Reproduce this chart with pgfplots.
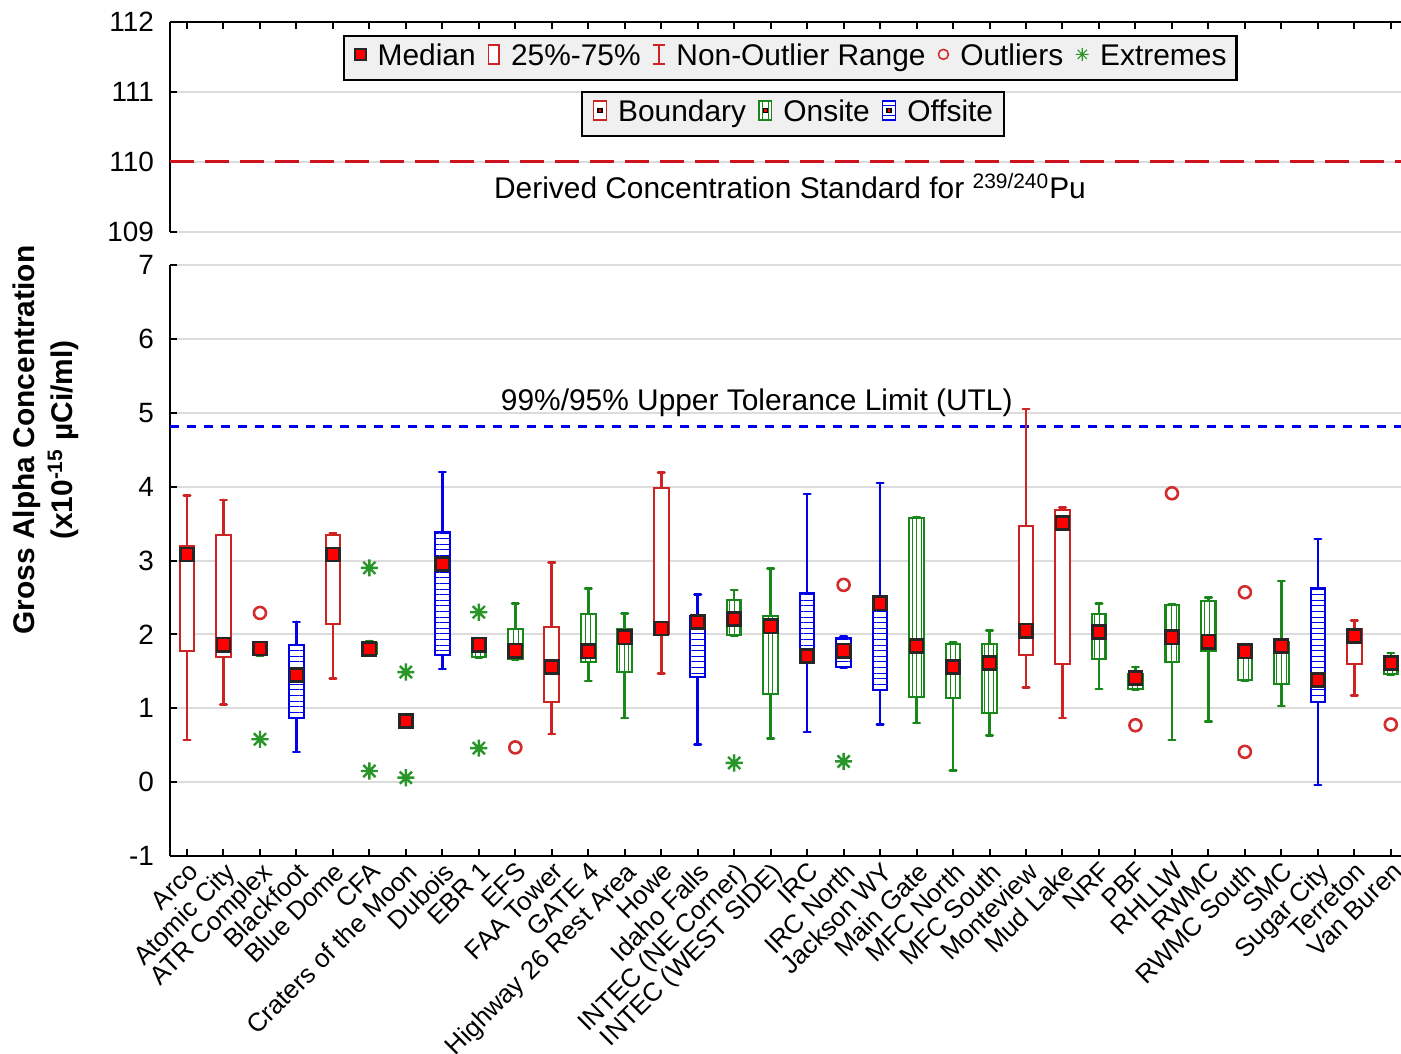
\documentclass[border=0pt]{standalone}
\usepackage{pgfplots}
\pgfplotsset{compat=1.18}
\usepgfplotslibrary{statistics}
\usetikzlibrary{patterns.meta}
\usepackage{fontspec}
\setmainfont{Liberation Sans}

\definecolor{bred}{RGB}{205,35,35}
\definecolor{bgreen}{RGB}{25,135,25}
\definecolor{bblue}{RGB}{0,0,235}
\definecolor{outc}{RGB}{210,45,45}
\definecolor{extc}{RGB}{40,150,40}
\definecolor{legbg}{RGB}{240,240,240}
\definecolor{gridc}{RGB}{220,220,220}
\definecolor{dcsred}{RGB}{205,20,30}

\pgfdeclareplotmark{star8}{%
  \pgfpathmoveto{\pgfqpoint{0pt}{\pgfplotmarksize}}\pgfpathlineto{\pgfqpoint{0pt}{-\pgfplotmarksize}}%
  \pgfpathmoveto{\pgfqpoint{\pgfplotmarksize}{0pt}}\pgfpathlineto{\pgfqpoint{-\pgfplotmarksize}{0pt}}%
  \pgfpathmoveto{\pgfqpoint{0.707\pgfplotmarksize}{0.707\pgfplotmarksize}}\pgfpathlineto{\pgfqpoint{-0.707\pgfplotmarksize}{-0.707\pgfplotmarksize}}%
  \pgfpathmoveto{\pgfqpoint{0.707\pgfplotmarksize}{-0.707\pgfplotmarksize}}\pgfpathlineto{\pgfqpoint{-0.707\pgfplotmarksize}{0.707\pgfplotmarksize}}%
  \pgfusepathqstroke}

\pgfplotsset{
  bxcommon/.style={boxplot/draw direction=y, boxplot/box extend=0.4, boxplot/whisker extend=0.18,
    boxplot/every whisker/.style={line width=1.3bp, line cap=round},
    boxplot/draw/median/.code={}},
  boundary/.style={draw=bred, bxcommon, boxplot/every box/.style={fill=white, line width=1bp}},
  onsite/.style={draw=bgreen, bxcommon, boxplot/every box/.style={fill=white, line width=1bp,
    postaction={pattern={Lines[angle=90,distance=2.4bp,line width=0.45bp]}, pattern color=bgreen}}},
  offsite/.style={draw=bblue, bxcommon, boxplot/every box/.style={fill=white, line width=1bp,
    postaction={pattern={Lines[angle=0,distance=2.8bp,line width=0.5bp]}, pattern color=bblue}}},
  common/.style={scale only axis, width=615.5bp, xmin=-0.466, xmax=33.28, xtick={0,...,33},
    axis y line*=left, tick align=inside, major tick length=3.5bp,
    ymajorgrids, grid style={gridc, line width=1bp},
    axis line style={line width=1.4bp}, every tick/.style={black, line width=1bp},
    /pgf/number format/assume math mode=true,
    yticklabel style={font=\fontsize{14}{16}\selectfont, xshift=-4.5bp},
    clip=false},
}

% #1 position, #2 group style, #3 lower whisker, #4 lower quartile, #5 median, #6 upper quartile, #7 upper whisker
\newcommand{\bx}[7]{\addplot[boxplot prepared={draw position=#1, lower whisker=#3, lower quartile=#4, median=#5, upper quartile=#6, upper whisker=#7}, #2] coordinates {};}

\newcommand{\icmed}{\tikz[baseline=-0.7ex]{\draw[black!85,fill=red,line width=0.8bp] (-2.7bp,-2.7bp) rectangle (2.7bp,2.7bp);}}
\newcommand{\icbox}{\tikz[baseline=-0.7ex]{\draw[bred,line width=0.8bp,fill=white] (-2.7bp,-4.7bp) rectangle (2.7bp,4.7bp);}}
\newcommand{\icwhisk}{\tikz[baseline=-0.7ex]{\draw[bred,line width=0.8bp] (-2.8bp,-4.7bp)--(2.8bp,-4.7bp) (0,-4.7bp)--(0,4.7bp) (-2.8bp,4.7bp)--(2.8bp,4.7bp);}}
\newcommand{\icout}{\tikz[baseline=-0.7ex]{\draw[outc,line width=0.8bp] (-2.5bp,0)  arc[start angle=180, end angle=-180, radius=2.5bp];}}
\newcommand{\icext}{\tikz[baseline=-0.7ex]{\draw[extc,line width=0.6bp] (0,-3.2bp)--(0,3.2bp) (-3.2bp,0)--(3.2bp,0) (-2.3bp,-2.3bp)--(2.3bp,2.3bp) (-2.3bp,2.3bp)--(2.3bp,-2.3bp);}}
\newcommand{\icbound}{\tikz[baseline=-0.7ex]{\draw[bred,line width=0.8bp,fill=white] (-3.2bp,-4.7bp) rectangle (3.2bp,4.7bp); \fill[black] (-1.3bp,-1.3bp) rectangle (1.3bp,1.3bp); \fill[red] (-0.65bp,-0.65bp) rectangle (0.65bp,0.65bp);}}
\newcommand{\iconsite}{\tikz[baseline=-0.7ex]{\draw[bgreen,line width=0.8bp,fill=white] (-3.2bp,-4.7bp) rectangle (3.2bp,4.7bp); \draw[bgreen,line width=0.45bp] (-1.6bp,-4.7bp)--(-1.6bp,4.7bp) (1.6bp,-4.7bp)--(1.6bp,4.7bp); \fill[black] (-1.3bp,-1.3bp) rectangle (1.3bp,1.3bp); \fill[red] (-0.65bp,-0.65bp) rectangle (0.65bp,0.65bp);}}
\newcommand{\icoffsite}{\tikz[baseline=-0.7ex]{\draw[bblue,line width=0.8bp,fill=white] (-3.2bp,-4.7bp) rectangle (3.2bp,4.7bp); \draw[bblue,line width=0.45bp] (-3.2bp,-2.4bp)--(3.2bp,-2.4bp) (-3.2bp,2.4bp)--(3.2bp,2.4bp); \fill[black] (-1.3bp,-1.3bp) rectangle (1.3bp,1.3bp); \fill[red] (-0.65bp,-0.65bp) rectangle (0.65bp,0.65bp);}}
\newcommand{\ga}{\hspace{5.5bp}}
\newcommand{\gb}{\hspace{6bp}}

\begin{document}
\begin{tikzpicture}
% ---------------- top panel ----------------
\begin{axis}[common, at={(0,312bp)}, anchor=south west, height=105bp,
  ymin=109, ymax=112, ytick={109,110,111,112},
  axis x line*=top, xticklabel=\empty]
\addplot[dcsred, line width=1.5bp, dash pattern=on 12bp off 5.5bp] coordinates {(-0.466,110) (33.28,110)};
\node[font=\fontsize{15}{18}\selectfont] at (axis cs:16.53,109.66) {Derived Concentration Standard for \textsuperscript{239/240}Pu};
\coordinate (leg1) at (axis cs:16.54,111.49);
\coordinate (leg2) at (axis cs:16.61,110.69);
\end{axis}
% ---------------- bottom panel ----------------
\begin{axis}[common, at={(0,0)}, anchor=south west, height=295.5bp,
  ymin=-1, ymax=7, ytick={-1,0,...,7},
  axis x line*=bottom,
  xticklabels={Arco,Atomic City,ATR Complex,Blackfoot,Blue Dome,CFA,Craters of the Moon,Dubois,EBR 1,EFS,FAA Tower,GATE 4,Highway 26 Rest Area,Howe,Idaho Falls,{INTEC (NE Corner)},{INTEC (WEST SIDE)},IRC,IRC North,Jackson WY,Main Gate,MFC North,MFC South,Monteview,Mud Lake,NRF,PBF,RHLLW,RWMC,RWMC South,SMC,Sugar City,Terreton,Van Buren},
  xticklabel style={rotate=45, anchor=north east, font=\fontsize{13}{15}\selectfont, inner sep=1.5bp}]
\addplot[bblue, line width=1.5bp, dash pattern=on 4.5bp off 4bp] coordinates {(-0.466,4.82) (33.28,4.82)};
\node[font=\fontsize{15}{18}\selectfont] at (axis cs:15.62,5.13) {99\%/95\% Upper Tolerance Limit (UTL)};
\bx{0}{boundary}{0.57}{1.78}{3.08}{3.20}{3.88}
\bx{1}{boundary}{1.05}{1.69}{1.86}{3.34}{3.82}
\bx{2}{onsite}{1.71}{1.72}{1.81}{1.86}{1.88}
\bx{3}{offsite}{0.41}{0.87}{1.45}{1.85}{2.17}
\bx{4}{boundary}{1.40}{2.14}{3.08}{3.34}{3.37}
\bx{5}{onsite}{1.72}{1.73}{1.80}{1.88}{1.91}
\bx{6}{offsite}{0.79}{0.80}{0.83}{0.86}{0.87}
\bx{7}{offsite}{1.53}{1.72}{2.95}{3.38}{4.20}
\bx{8}{onsite}{1.69}{1.70}{1.86}{1.87}{1.88}
\bx{9}{onsite}{1.66}{1.67}{1.78}{2.07}{2.42}
\bx{10}{boundary}{0.65}{1.08}{1.56}{2.10}{2.97}
\bx{11}{onsite}{1.37}{1.62}{1.77}{2.27}{2.62}
\bx{12}{onsite}{0.87}{1.49}{1.96}{2.07}{2.28}
\bx{13}{boundary}{1.47}{2.00}{2.08}{3.98}{4.19}
\bx{14}{offsite}{0.51}{1.42}{2.17}{2.25}{2.54}
\bx{15}{onsite}{1.98}{1.99}{2.21}{2.47}{2.60}
\bx{16}{onsite}{0.59}{1.19}{2.11}{2.25}{2.89}
\bx{17}{offsite}{0.68}{1.66}{1.71}{2.56}{3.90}
\bx{18}{offsite}{1.55}{1.56}{1.78}{1.95}{1.97}
\bx{19}{offsite}{0.78}{1.25}{2.42}{2.51}{4.05}
\bx{20}{onsite}{0.80}{1.15}{1.84}{3.57}{3.59}
\bx{21}{onsite}{0.16}{1.14}{1.56}{1.87}{1.89}
\bx{22}{onsite}{0.63}{0.94}{1.61}{1.87}{2.05}
\bx{23}{boundary}{1.28}{1.72}{2.05}{3.47}{5.05}
\bx{24}{boundary}{0.87}{1.60}{3.51}{3.69}{3.72}
\bx{25}{onsite}{1.26}{1.67}{2.03}{2.27}{2.42}
\bx{26}{onsite}{1.25}{1.26}{1.41}{1.47}{1.56}
\bx{27}{onsite}{0.57}{1.63}{1.96}{2.40}{2.41}
\bx{28}{onsite}{0.82}{1.78}{1.90}{2.45}{2.50}
\bx{29}{onsite}{1.37}{1.38}{1.77}{1.84}{1.85}
\bx{30}{onsite}{1.03}{1.33}{1.84}{1.90}{2.72}
\bx{31}{offsite}{-0.04}{1.08}{1.38}{2.63}{3.29}
\bx{32}{boundary}{1.17}{1.60}{1.98}{2.07}{2.19}
\bx{33}{onsite}{1.45}{1.46}{1.61}{1.70}{1.75}
% medians
\addplot[only marks, mark=square*, mark size=3.3bp, mark options={fill=red, draw=black!85, line width=1.3bp}] coordinates {
(0,3.08)(1,1.86)(2,1.81)(3,1.45)(4,3.08)(5,1.80)(6,0.83)(7,2.95)(8,1.86)(9,1.78)
(10,1.56)(11,1.77)(12,1.96)(13,2.08)(14,2.17)(15,2.21)(16,2.11)(17,1.71)(18,1.78)(19,2.42)
(20,1.84)(21,1.56)(22,1.61)(23,2.05)(24,3.51)(25,2.03)(26,1.41)(27,1.96)(28,1.90)(29,1.77)
(30,1.84)(31,1.38)(32,1.98)(33,1.61)};
% outliers
\addplot[only marks, mark=o, mark size=3bp, outc, mark options={line width=1.3bp}] coordinates {
(2,2.29)(9,0.47)(18,2.67)(26,0.77)(27,3.91)(29,2.57)(29,0.41)(33,0.78)};
% extremes
\addplot[only marks, mark=star8, mark size=4.3bp, extc, mark options={line width=1.2bp}] coordinates {
(2,0.58)(5,2.90)(5,0.15)(6,1.49)(6,0.06)(8,2.30)(8,0.46)(15,0.26)(18,0.28)};
\end{axis}
\node[draw=black, line width=1.1bp, fill=legbg, inner xsep=5bp, inner ysep=4bp, font=\fontsize{15}{18}\selectfont]
  at (leg1) {\icmed\ga Median\gb\icbox\ga 25\%-75\%\gb\icwhisk\ga Non-Outlier Range\gb\icout\ga Outliers\gb\icext\ga Extremes};
\node[draw=black, line width=1.1bp, fill=legbg, inner xsep=5.5bp, inner ysep=4bp, font=\fontsize{15}{18}\selectfont]
  at (leg2) {\icbound\ga Boundary\gb\iconsite\ga Onsite\gb\icoffsite\ga Offsite};
\node[rotate=90, align=center, font=\fontsize{15}{19}\selectfont\bfseries] at (-62bp,208bp) {Gross Alpha Concentration\\(x10\textsuperscript{-15} µCi/ml)};
\pgfresetboundingbox
\path (-85bp,-99bp) rectangle (615.5bp,428bp);
\end{tikzpicture}
\end{document}
